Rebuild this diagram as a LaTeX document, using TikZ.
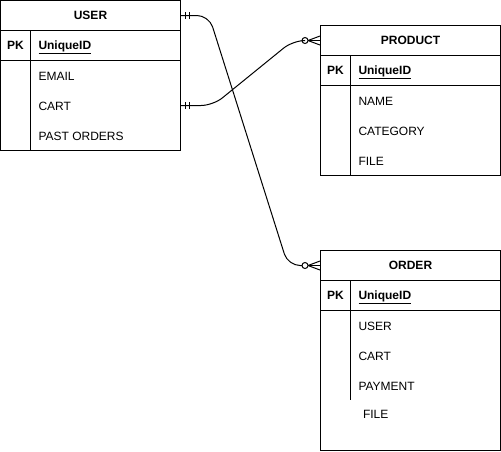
\documentclass[tikz,border=0pt]{standalone}
\usepackage{fontspec}
\setmainfont{Liberation Sans}
\usetikzlibrary{calc}
\begin{document}
\begin{tikzpicture}
  [x=1pt,y=-1pt,line width=1pt,
   every node/.style={font=\fontsize{12}{14}\selectfont,inner sep=0pt,text height=8.6pt,text depth=0pt},
   box/.style={draw,minimum width=180pt,minimum height=30pt},
   hdr/.style={box,font=\fontsize{12}{14}\selectfont\bfseries},
   key/.style={font=\fontsize{12}{14}\selectfont\bfseries},
   fld/.style={anchor=west},
   rel/.style={rounded corners=12pt}]

  \useasboundingbox (0,0) rectangle (501,451);

  % USER
  \node[hdr] (user) at (90.5,15.5) {USER};
  \node[box] (userpk) at (90.5,45.5) {};
  \node[box,minimum height=90pt] (userbody) at (90.5,105.5) {};
  \draw (userpk.north west) ++(30,0) -- ($(userbody.south west)+(30,0)$);
  \node[key] (upk) at (15.5,45.5) {PK};
  \node[key,fld] (uid) at (38,45.5) {\underline{UniqueID}};
  \node[fld] (uemail) at (38,76) {EMAIL};
  \node[fld] (ucart) at (38,106) {CART};
  \node[fld] (upast) at (38,136) {PAST ORDERS};

  % PRODUCT
  \node[hdr] (product) at (410.5,40.5) {PRODUCT};
  \node[box] (productpk) at (410.5,70.5) {};
  \node[box,minimum height=90pt] (productbody) at (410.5,130.5) {};
  \draw (productpk.north west) ++(30,0) -- ($(productbody.south west)+(30,0)$);
  \node[key] (ppk) at (335.5,70.5) {PK};
  \node[key,fld] (pid) at (358,70.5) {\underline{UniqueID}};
  \node[fld] (pname) at (358,101) {NAME};
  \node[fld] (pcat) at (358,131) {CATEGORY};
  \node[fld] (pfile) at (358,161) {FILE};

  % ORDER
  \node[hdr] (order) at (410.5,265.5) {ORDER};
  \node[box] (orderpk) at (410.5,295.5) {};
  \node[box,minimum height=140pt] (orderbody) at (410.5,380.5) {};
  \draw (orderpk.north west) ++(30,0) -- ++(0,120);
  \node[key] (opk) at (335.5,295.5) {PK};
  \node[key,fld] (oid) at (358,295.5) {\underline{UniqueID}};
  \node[fld] (ouser) at (358,326) {USER};
  \node[fld] (ocart) at (358,356) {CART};
  \node[fld] (opay) at (358,386) {PAYMENT};
  \node[fld] (ofile) at (362.5,414) {FILE};

  % relations
  \coordinate (userend) at (user.east);
  \coordinate (cartend) at (user.east |- 0,105.5);
  \draw[rel] (userend) -- ++(28,0) -- ([xshift=-32pt]order.west) -- ([xshift=-18pt]order.west);
  \draw[rel] (cartend) -- ++(32,0) -- ([xshift=-27pt]product.west) -- ([xshift=-18pt]product.west);

  % one-and-only-one ends
  \foreach \e in {userend,cartend} {
    \draw ($(\e)+(4,-3.5)$) -- ++(0,7);
    \draw ($(\e)+(8,-3.5)$) -- ++(0,7);
  }

  % zero-or-many ends
  \foreach \n in {order,product} {
    \draw ([xshift=-15pt]\n.west) circle (3pt);
    \draw ([xshift=-12pt]\n.west) -- (\n.west);
    \draw ([xshift=-12pt]\n.west) -- ([yshift=-4.5pt]\n.west);
    \draw ([xshift=-12pt]\n.west) -- ([yshift=4.5pt]\n.west);
  }
\end{tikzpicture}
\end{document}
